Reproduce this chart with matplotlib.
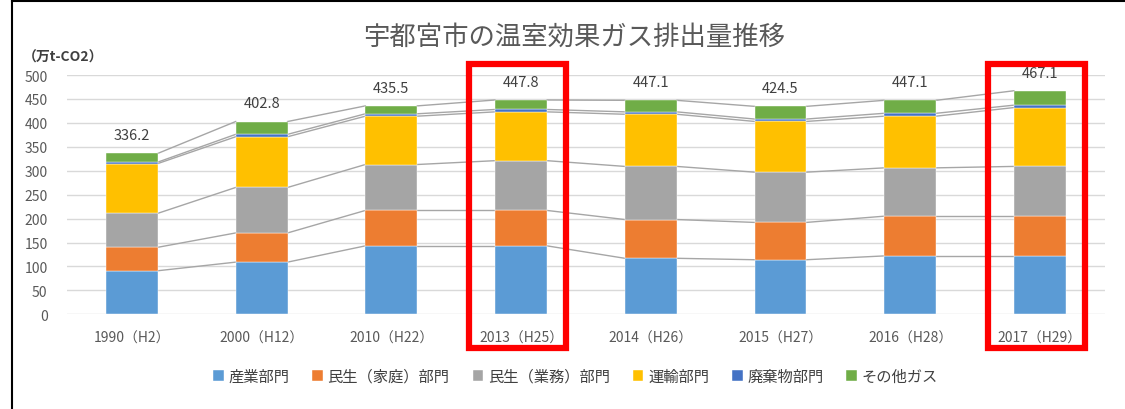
import numpy as np
import matplotlib
matplotlib.use('Agg')
import matplotlib.pyplot as plt
from matplotlib import rcParams
from matplotlib.patches import Rectangle

rcParams['font.family'] = ['Noto Sans CJK JP', 'DejaVu Sans']
rcParams['font.size'] = 10

# data (万t-CO2)
years = ['1990（H2）', '2000（H12）', '2010（H22）', '2013（H25）',
         '2014（H26）', '2015（H27）', '2016（H28）', '2017（H29）']
sectors = ['産業部門', '民生（家庭）部門', '民生（業務）部門', '運輸部門', '廃棄物部門', 'その他ガス']
industry = [91, 109, 143, 143, 117, 114, 122, 122]
household = [49, 61, 74, 74, 81, 78, 83, 83]
business = [71, 95, 96, 104, 111, 105, 101, 104]
transport = [104, 106, 101, 102, 109, 106, 108, 123]
waste = [3, 5, 5, 5, 5, 5, 6, 5]
other = [18.2, 26.8, 16.5, 19.8, 24.1, 26.5, 27.1, 30.1]
total_labels = ['336.2', '402.8', '435.5', '447.8', '447.1', '424.5', '447.1', '467.1']
highlight = ['2013（H25）', '2017（H29）']

colors = ['#5B9BD5', '#ED7D31', '#A5A5A5', '#FFC000', '#4472C4', '#70AD47']
series = [industry, household, business, transport, waste, other]

fig = plt.figure(figsize=(11.25, 4.1), dpi=100)
ax = fig.add_axes([0.0596, 0.231, 0.9224, 0.5836])

x = np.arange(len(years))
w = 0.4
bottom = np.zeros(len(years))
tops = []
for vals, col, name in zip(series, colors, sectors):
    vals = np.array(vals, dtype=float)
    ax.bar(x, vals, w, bottom=bottom, color=col, label=name,
           edgecolor='white', linewidth=0.3, zorder=3)
    bottom = bottom + vals
    tops.append(bottom.copy())

# series lines
for t in tops:
    for i in range(len(x) - 1):
        ax.plot([x[i] + w / 2, x[i + 1] - w / 2], [t[i], t[i + 1]],
                color='#A6A6A6', lw=1, zorder=2)

# total labels
for i, lab in enumerate(total_labels):
    ax.annotate(lab, (x[i], tops[-1][i]), xytext=(0, 13), textcoords='offset points',
                ha='center', va='center', fontsize=10.5, color='#404040',
                annotation_clip=False)

ax.set_xlim(-0.5, len(years) - 0.5)
ax.set_ylim(0, 500)
ax.set_yticks(np.arange(0, 501, 50))
ax.set_xticks(x)
ax.set_xticklabels(years)
ax.tick_params(length=0, colors='#595959', labelsize=10)
ax.tick_params(axis='x', pad=12)
ax.tick_params(axis='y', pad=14)
ax.grid(axis='y', color='#D9D9D9', lw=1, zorder=0)
ax.set_axisbelow(True)
for s in ax.spines.values():
    s.set_visible(False)

# red highlight boxes
for h in highlight:
    i = years.index(h)
    ax.add_patch(Rectangle((i - 0.40, -70), 0.75, 593, fill=False,
                           edgecolor='#FF0000', lw=4.5, clip_on=False, zorder=5))

fig.text(0.51, 0.91, '宇都宮市の温室効果ガス排出量推移', ha='center', va='center',
         fontsize=19, color='#595959')
fig.text(0.02, 0.86, '（万t-CO2）', ha='left', va='center', fontsize=10,
         color='#404040', fontweight='bold')

ax.legend(loc='center', bbox_to_anchor=(0.49, -0.26), ncol=6, frameon=False,
          fontsize=11, handlelength=0.7, handleheight=0.7, handletextpad=0.3,
          columnspacing=1.5, labelcolor='#404040')

# border
fig.add_artist(plt.Line2D([0.0105, 0.0105], [0, 0.995], color='black', lw=1.5,
                          transform=fig.transFigure))
fig.add_artist(plt.Line2D([0.0105, 1], [0.995, 0.995], color='black', lw=1.5,
                          transform=fig.transFigure))

fig.savefig('out.png', dpi=100)
